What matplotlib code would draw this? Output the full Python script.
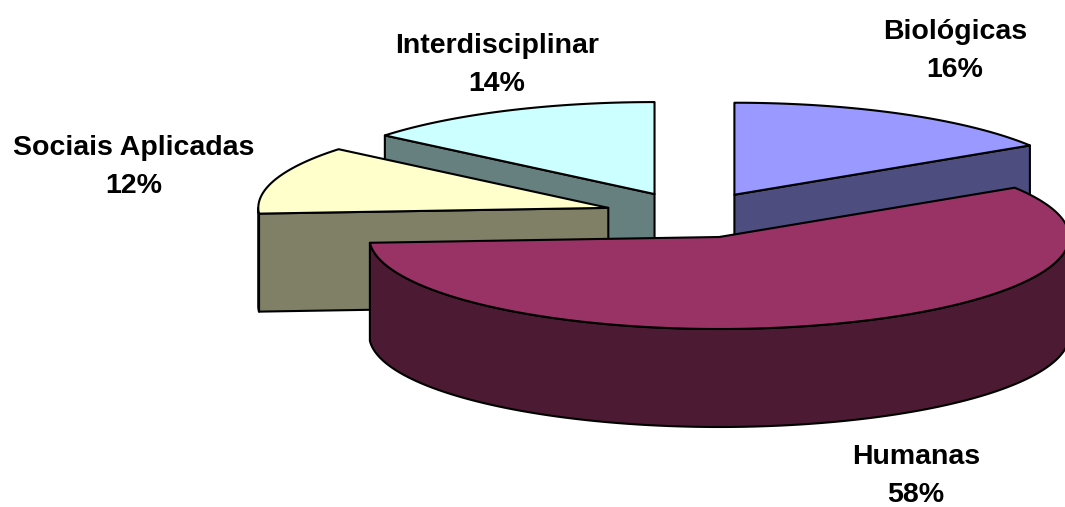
import numpy as np
import matplotlib.pyplot as plt
from matplotlib.patches import Polygon
from matplotlib.colors import to_rgb

# areas and their share of the total (%)
labels = ['Biológicas', 'Humanas', 'Sociais Aplicadas', 'Interdisciplinar']
shares = [16, 58, 12, 14]
colors = ['#9999ff', '#993366', '#ffffcc', '#ccffff']

# where each label sits (pixel coords, y down)
label_xy = [(955, 51), (916, 476), (134, 167), (497, 65)]

# 3d pie geometry in pixels
cx, cy = 692, 215
rx, ry = 350, 92
depth = 98
explode = 88

fig = plt.figure(figsize=(10.65, 5.07), dpi=100)
ax = fig.add_axes([0, 0, 1, 1])
ax.set_xlim(0, 1065)
ax.set_ylim(507, 0)
ax.axis('off')

edge = dict(edgecolor='black', linewidth=1.5, joinstyle='round')


def rim(ox, oy, t, dz=0):
    t = np.radians(t)
    return np.column_stack([ox + rx * np.cos(t), oy - ry * np.sin(t) + dz])


slices = []
start = 90.0
total = sum(shares)
for name, val, col in zip(labels, shares, colors):
    sweep = 360.0 * val / total
    t1, t2 = start, start - sweep
    mid = np.radians((t1 + t2) / 2)
    ox = cx + explode * np.cos(mid)
    oy = cy - explode * np.sin(mid) * ry / rx
    slices.append((oy, ox, t1, t2, col))
    start = t2

# back slices first
for oy, ox, t1, t2, col in sorted(slices, key=lambda s: s[0]):
    dark = tuple(c * 0.5 for c in to_rgb(col))
    ctr = np.array([[ox, oy]])
    ctr_b = ctr + [0, depth]

    # radial walls facing the viewer
    for a, nrm in ((t1, t1 + 90), (t2, t2 - 90)):
        if np.sin(np.radians(nrm)) < -1e-6:
            p = rim(ox, oy, [a])
            wall = np.vstack([ctr, p, p + [0, depth], ctr_b])
            ax.add_patch(Polygon(wall, closed=True, facecolor=dark, **edge))

    # outer curved wall, front half only
    ts = np.linspace(t1, t2, 400)
    front = ts[np.sin(np.radians(ts)) < 0]
    if len(front) > 1:
        top = rim(ox, oy, front)
        bot = rim(ox, oy, front, depth)
        ax.add_patch(Polygon(np.vstack([top, bot[::-1]]), closed=True,
                             facecolor=dark, **edge))

    # top face
    face = np.vstack([ctr, rim(ox, oy, ts)])
    ax.add_patch(Polygon(face, closed=True, facecolor=col, **edge))

for name, val, (x, y) in zip(labels, shares, label_xy):
    ax.text(x, y, f'{name}\n{val}%', ha='center', va='center',
            multialignment='center', linespacing=1.62,
            fontsize=20.5, fontweight='bold', family='Liberation Sans')

fig.savefig('out.png', dpi=100)
